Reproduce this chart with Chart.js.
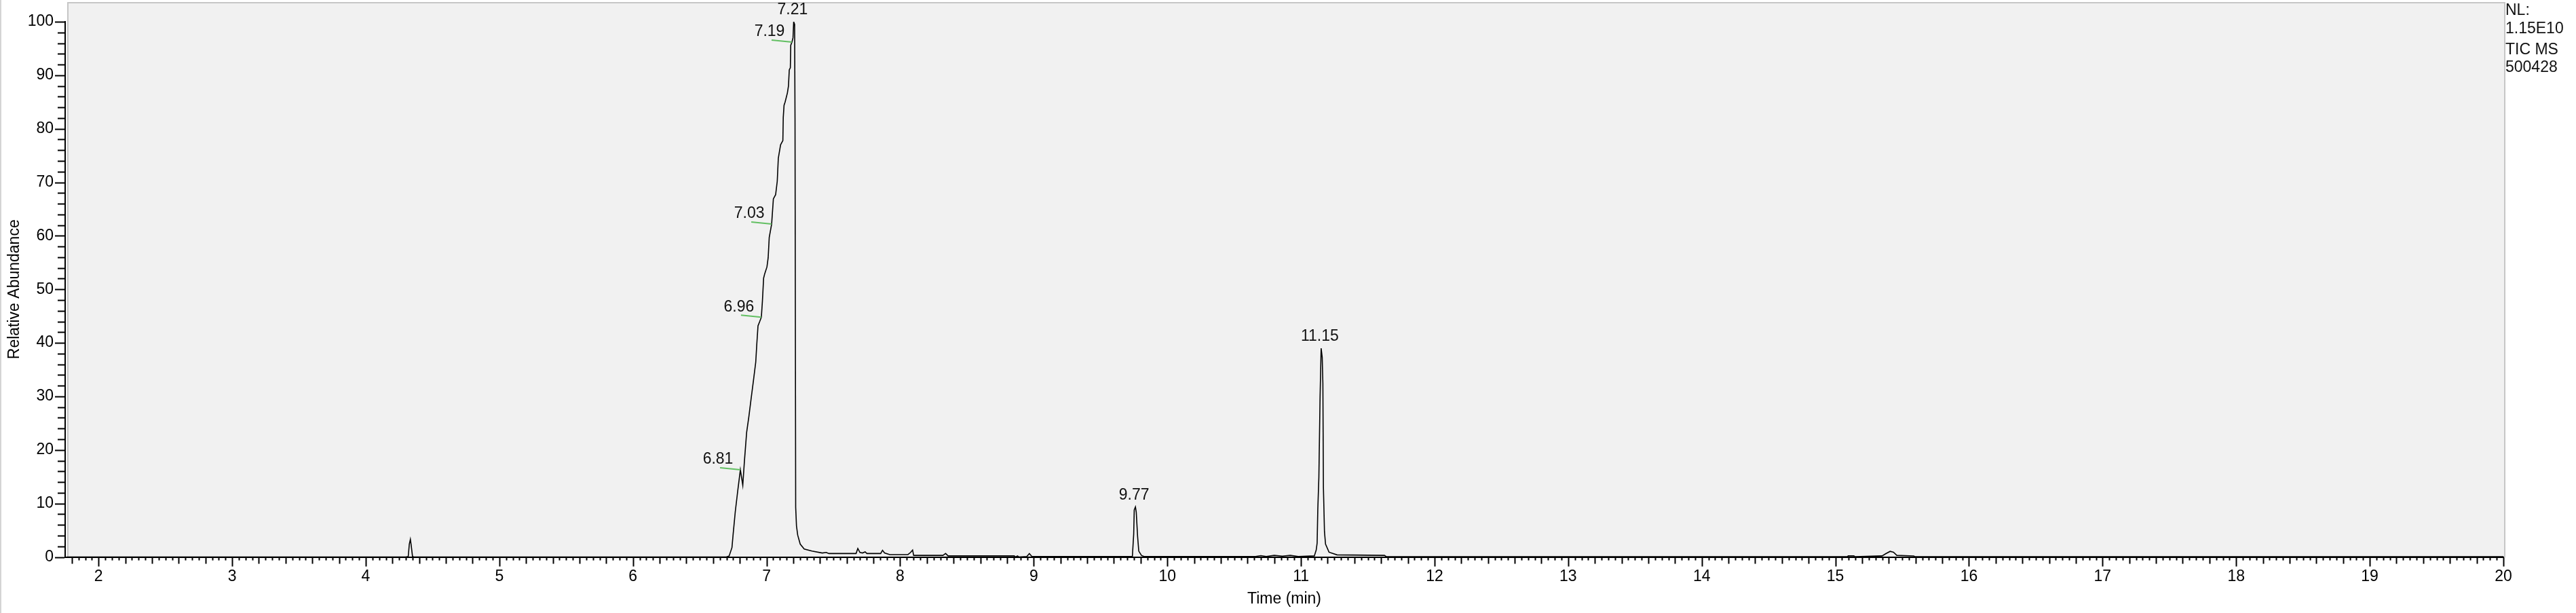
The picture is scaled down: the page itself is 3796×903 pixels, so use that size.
<!DOCTYPE html>
<html>
<head>
<meta charset="utf-8">
<title>TIC MS 500428</title>
<script src="https://cdn.jsdelivr.net/npm/chart.js@4.4.0/dist/chart.umd.min.js"></script>
<style>
  html, body { margin: 0; padding: 0; background: #fff; }
  canvas { display: block; }
</style>
</head>
<body>
<canvas id="mycanvas" width="3796" height="903"></canvas>
<script>
// retention time (min) and relative abundance (%)
var times = [
  1.76, 4.30, 4.318, 4.326, 4.334, 4.340, 4.350, 4.36,
  6.70, 6.72, 6.741, 6.750, 6.766, 6.784, 6.804, 6.822, 6.834, 6.851,
  6.868, 6.885, 6.902, 6.919, 6.927, 6.936, 6.949, 6.961, 6.969, 6.978,
  6.986, 7.003, 7.012, 7.020, 7.038, 7.051, 7.068, 7.080, 7.088, 7.105,
  7.122, 7.125, 7.131, 7.139, 7.156, 7.164, 7.170, 7.178, 7.181, 7.190,
  7.198, 7.203, 7.210, 7.213, 7.218, 7.224, 7.233, 7.252, 7.282, 7.340,
  7.417, 7.447, 7.466, 7.670, 7.683, 7.699, 7.718, 7.738, 7.751, 7.854,
  7.868, 7.883, 7.922, 8.058, 8.078, 8.093, 8.101, 8.320, 8.340, 8.359,
  8.854, 8.864, 8.878, 8.889, 8.948, 8.967, 8.986,
  9.738, 9.748, 9.752, 9.761, 9.767, 9.777, 9.786, 9.806, 9.825,
  10.66, 10.70, 10.74, 10.80, 10.86, 10.92, 10.98,
  11.10, 11.114, 11.121, 11.126, 11.134, 11.143, 11.151, 11.159, 11.164,
  11.168, 11.176, 11.184, 11.21, 11.27, 11.625, 11.64,
  15.09, 15.096, 15.139, 15.145, 15.35, 15.376, 15.41, 15.435, 15.46,
  15.587, 15.595, 20.0
];
var abundance = [
  0, 0, 0.1, 2.4, 3.3, 2.2, 0.1, 0,
  0, 0.2, 1.75, 4.3, 8.5, 12.3, 16.3, 13.4, 17.8, 23.3,
  26.3, 29.7, 33.0, 36.4, 39.8, 43.2, 44.0, 44.8, 47.8, 52.1,
  52.9, 54.2, 55.9, 59.7, 62.2, 66.9, 67.7, 70.2, 74.5, 77.0,
  77.8, 82.1, 84.4, 85.0, 86.7, 88.0, 91.0, 91.4, 95.6, 96.2,
  97.0, 100, 99.5, 82.0, 9.3, 5.8, 4.1, 2.4, 1.5, 1.1,
  0.75, 0.85, 0.65, 0.65, 1.6, 0.85, 0.75, 0.95, 0.65, 0.65,
  1.25, 0.75, 0.45, 0.45, 0.85, 1.3, 0.3, 0.3, 0.65, 0.2,
  0.2, 0.0, 0.2, 0.0, 0.1, 0.65, 0.1,
  0.1, 4.3, 8.8, 9.35, 8.4, 3.9, 1.1, 0.3, 0.1,
  0.1, 0.25, 0.1, 0.3, 0.15, 0.3, 0.1,
  0.2, 1.3, 2.6, 8.9, 14.9, 29.9, 39.0, 37.3, 32.4,
  13.0, 4.7, 2.4, 0.9, 0.4, 0.3, 0.05,
  0.05, 0.2, 0.2, 0.05, 0.2, 0.6, 1.05, 0.9, 0.3,
  0.2, 0.05, 0.05
];

// peak labels
var peakTimes  = [7.205, 7.190, 7.038, 6.961, 6.804, 9.761, 11.151];
var peakValues = [100, 96.2, 62.2, 44.8, 16.3, 9.35, 39.0];
var peakLabels = ['7.21', '7.19', '7.03', '6.96', '6.81', '9.77', '11.15'];
var peakLeader = [false, true, true, true, true, false, false];

var xTickLabels = [2, 3, 4, 5, 6, 7, 8, 9, 10, 11, 12, 13, 14, 15, 16, 17, 18, 19, 20];
var yTickLabels = [0, 10, 20, 30, 40, 50, 60, 70, 80, 90, 100];
var headerLines = ['NL:', '1.15E10', 'TIC MS', '500428'];

var FONT = "'Liberation Sans', Arial, sans-serif";

var points = [];
for (var i in times) {
  points.push({x: times[i], y: abundance[i]});
}

// grey plot box behind the trace
var plotBox = {
  id: 'plotBox',
  beforeDraw: function(chart) {
    var ctx = chart.ctx, a = chart.chartArea;
    ctx.save();
    ctx.fillStyle = '#ffffff';
    ctx.fillRect(0, 0, chart.width, chart.height);
    ctx.strokeStyle = '#d4d4d4';
    ctx.lineWidth = 2;
    ctx.beginPath();
    ctx.moveTo(1, 0);
    ctx.lineTo(1, chart.height);
    ctx.stroke();
    ctx.fillStyle = '#f1f1f1';
    ctx.fillRect(a.left + 4, 4, a.right - a.left - 2, a.bottom - 4);
    ctx.strokeStyle = '#c6c6c6';
    ctx.lineWidth = 2;
    ctx.strokeRect(a.left + 4, 4, a.right - a.left - 2, a.bottom - 4);
    ctx.restore();
  }
};

// ruler ticks and peak annotations
var extras = {
  id: 'extras',
  afterDraw: function(chart) {
    var ctx = chart.ctx, a = chart.chartArea;
    var xs = chart.scales.x, ys = chart.scales.y;
    ctx.save();
    ctx.strokeStyle = '#000';
    ctx.lineWidth = 2;
    ctx.beginPath();
    for (var k = Math.ceil(xs.min * 20); k <= Math.round(xs.max * 20); k++) {
      var px = Math.round(xs.getPixelForValue(k / 20)) + 0.5;
      if (px < a.left + 3) continue;
      var len = (k % 20 === 0) ? 13 : (k % 4 === 0 ? 9 : 4);
      ctx.moveTo(px, a.bottom + 1);
      ctx.lineTo(px, a.bottom + 1 + len);
    }
    for (var v = 0; v <= 100; v += 2) {
      var py = Math.round(ys.getPixelForValue(v)) + 0.5;
      var ylen = (v % 10 === 0) ? 14 : 10;
      ctx.moveTo(a.left - 1, py);
      ctx.lineTo(a.left - 1 - ylen, py);
    }
    ctx.stroke();

    ctx.font = '23px ' + FONT;
    ctx.fillStyle = '#111';
    ctx.textAlign = 'center';
    ctx.textBaseline = 'middle';
    for (var j in peakLabels) {
      var x = xs.getPixelForValue(peakTimes[j]);
      var y = ys.getPixelForValue(peakValues[j]);
      if (peakLeader[j]) {
        ctx.strokeStyle = '#62bf62';
        ctx.lineWidth = 2;
        ctx.beginPath();
        ctx.moveTo(x, y);
        ctx.lineTo(x - 30, y - 3);
        ctx.stroke();
        ctx.fillText(peakLabels[j], x - 33, y - 15);
      } else {
        ctx.fillText(peakLabels[j], x - 2, y - 17);
      }
    }

    ctx.textAlign = 'left';
    var hy = [16, 43, 74, 100];
    for (var h in headerLines) {
      ctx.fillText(headerLines[h], a.right + 3, hy[h]);
    }
    ctx.restore();
  }
};

var ctx = document.getElementById('mycanvas');

var chromatogram = new Chart(ctx, {
  type: 'line',
  data: {
    datasets: [{
      label: 'TIC MS 500428',
      data: points,
      borderColor: '#000',
      borderWidth: 1.6,
      pointRadius: 0,
      tension: 0,
      fill: false
    }]
  },
  options: {
    responsive: false,
    animation: false,
    devicePixelRatio: 1,
    layout: { padding: { top: 32, right: 107, bottom: 0, left: 0 } },
    plugins: {
      legend: { display: false },
      tooltip: { enabled: false }
    },
    scales: {
      x: {
        type: 'linear',
        min: 1.75,
        max: 20,
        afterBuildTicks: function(scale) {
          scale.ticks = xTickLabels.map(function(v) { return {value: v}; });
        },
        afterFit: function(scale) { scale.height = 82.5; },
        grid: { display: false, drawTicks: false },
        border: { display: true, color: '#000', width: 2 },
        ticks: {
          padding: 15,
          maxRotation: 0,
          autoSkip: false,
          color: '#000',
          font: { family: FONT, size: 23 },
          callback: function(v) { return String(v); }
        },
        title: {
          display: true,
          text: 'Time (min)',
          color: '#000',
          font: { family: FONT, size: 23 },
          padding: { top: 0, bottom: 7 }
        }
      },
      y: {
        min: 0,
        max: 100,
        afterBuildTicks: function(scale) {
          scale.ticks = yTickLabels.map(function(v) { return {value: v}; });
        },
        afterFit: function(scale) { scale.width = 96; },
        grid: { display: false, drawTicks: false },
        border: { display: true, color: '#000', width: 2 },
        ticks: {
          padding: 17,
          color: '#000',
          font: { family: FONT, size: 23 },
          callback: function(v) { return String(v); }
        },
        title: {
          display: true,
          text: 'Relative Abundance',
          color: '#000',
          font: { family: FONT, size: 23 },
          padding: { top: 8, bottom: 0 }
        }
      }
    }
  },
  plugins: [plotBox, extras]
});
</script>
</body>
</html>
